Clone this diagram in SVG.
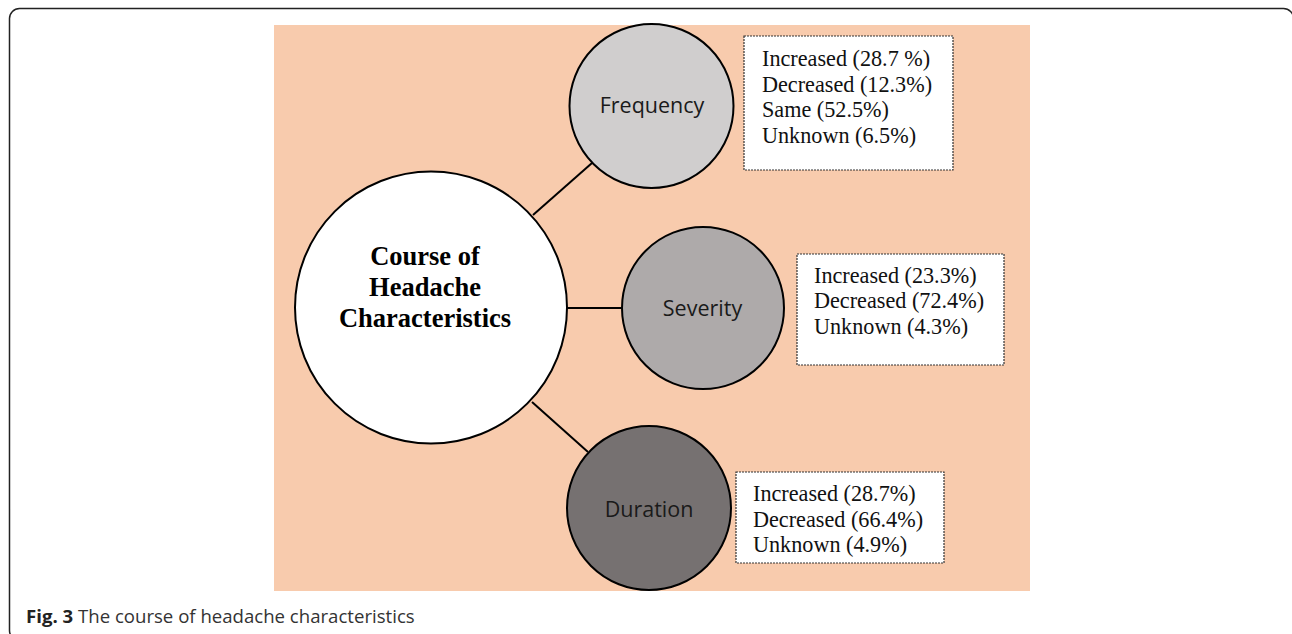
<svg xmlns="http://www.w3.org/2000/svg" width="1292" height="634" viewBox="0 0 1292 634">
<style>
.node circle{stroke:#000;stroke-width:2}
.lbl{font-family:"Open Sans","Liberation Sans",sans-serif;font-size:21.5px;fill:#1a1a1a;text-anchor:middle}
.box{fill:#fff;stroke:#333;stroke-width:1.2;stroke-dasharray:2 1}
.bt{font-family:"Liberation Serif","Times New Roman",serif;font-size:22.2px;fill:#111}
.main{font-family:"Liberation Serif","Times New Roman",serif;font-size:26.5px;font-weight:bold;fill:#000;text-anchor:middle}
.conn line{stroke:#000;stroke-width:2}
.cap{font-family:"Open Sans","Liberation Sans",sans-serif;font-size:18.6px;fill:#333}
</style>
<rect x="0" y="0" width="1292" height="634" fill="#fff"/>
<rect x="9.5" y="8.5" width="1284" height="632" rx="10" fill="none" stroke="#222" stroke-width="1.5"/>
<rect x="274" y="25" width="756" height="566" fill="#f8cbad"/>
<g class="conn" id="connectors">
<line x1="533" y1="215" x2="592" y2="163"/>
<line x1="567" y1="308" x2="622" y2="308"/>
<line x1="532" y1="402" x2="588" y2="452"/>
</g>
<g class="node" id="center">
<circle cx="431" cy="307.5" r="136" fill="#fff"/>
<text class="main" x="425" y="265">Course of</text>
<text class="main" x="425" y="296">Headache</text>
<text class="main" x="425" y="327">Characteristics</text>
</g>
<g class="node" id="frequency">
<circle cx="651.5" cy="106" r="82" fill="#d0cece"/>
<text class="lbl" x="652" y="113">Frequency</text>
</g>
<g id="frequency-box">
<rect class="box" x="744" y="36" width="209" height="134"/>
<text class="bt" x="762" y="66">Increased (28.7 %)</text>
<text class="bt" x="762" y="92">Decreased (12.3%)</text>
<text class="bt" x="762" y="117">Same (52.5%)</text>
<text class="bt" x="762" y="143">Unknown (6.5%)</text>
</g>
<g class="node" id="severity">
<circle cx="703" cy="308" r="81" fill="#aeaaaa"/>
<text class="lbl" x="702.5" y="316">Severity</text>
</g>
<g id="severity-box">
<rect class="box" x="797" y="254" width="207" height="111"/>
<text class="bt" x="814" y="283">Increased (23.3%)</text>
<text class="bt" x="814" y="308">Decreased (72.4%)</text>
<text class="bt" x="814" y="334">Unknown (4.3%)</text>
</g>
<g class="node" id="duration">
<circle cx="649" cy="508" r="82" fill="#767171"/>
<text class="lbl" x="649" y="517">Duration</text>
</g>
<g id="duration-box">
<rect class="box" x="736" y="472" width="208" height="91"/>
<text class="bt" x="753" y="501">Increased (28.7%)</text>
<text class="bt" x="753" y="527">Decreased (66.4%)</text>
<text class="bt" x="753" y="552">Unknown (4.9%)</text>
</g>
<text class="cap" x="26" y="623"><tspan font-weight="bold" fill="#222">Fig. 3</tspan> The course of headache characteristics</text>
</svg>
